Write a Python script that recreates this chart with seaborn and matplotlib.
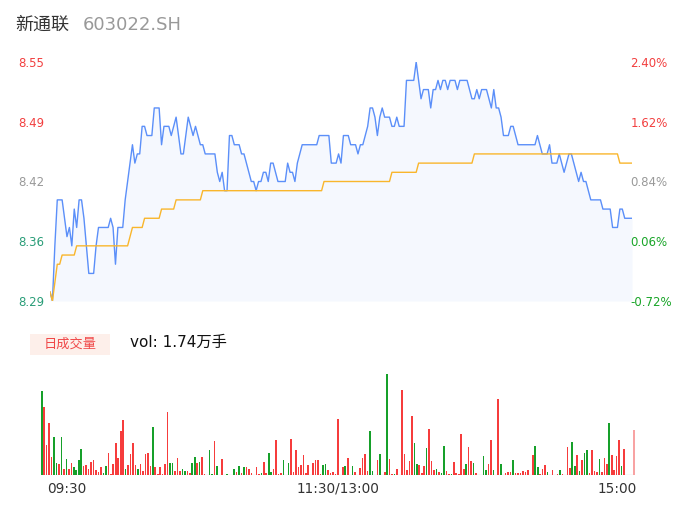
import numpy as np
import pandas as pd
import matplotlib
matplotlib.use("Agg")
import matplotlib.pyplot as plt
from matplotlib.patches import Rectangle
import seaborn as sns

sns.set_theme(style="white")
plt.rcParams["font.family"] = ["DejaVu Sans", "Noto Sans CJK SC"]

# ---------------- data ----------------
stock_name = "新通联"
stock_code = "603022.SH"
vol_text = "vol: 1.74万手"
vol_tag = "日成交量"

price = [
    8.30, 8.29, 8.35, 8.40, 8.40, 8.40, 8.38, 8.36, 8.37, 8.35,
    8.39, 8.37, 8.40, 8.40, 8.38, 8.35, 8.32, 8.32, 8.32, 8.35,
    8.37, 8.37, 8.37, 8.37, 8.37, 8.38, 8.37, 8.33, 8.37, 8.37,
    8.37, 8.40, 8.42, 8.44, 8.46, 8.44, 8.45, 8.45, 8.48, 8.48,
    8.47, 8.47, 8.47, 8.50, 8.50, 8.50, 8.46, 8.48, 8.48, 8.48,
    8.47, 8.48, 8.49, 8.47, 8.45, 8.45, 8.47, 8.49, 8.48, 8.47,
    8.48, 8.47, 8.46, 8.46, 8.45, 8.45, 8.45, 8.45, 8.45, 8.43,
    8.42, 8.43, 8.41, 8.41, 8.47, 8.47, 8.46, 8.46, 8.46, 8.45,
    8.45, 8.44, 8.43, 8.42, 8.42, 8.41, 8.42, 8.42, 8.43, 8.43,
    8.42, 8.44, 8.44, 8.43, 8.42, 8.42, 8.42, 8.42, 8.44, 8.43,
    8.43, 8.42, 8.44, 8.45, 8.46, 8.46, 8.46, 8.46, 8.46, 8.46,
    8.46, 8.47, 8.47, 8.47, 8.47, 8.47, 8.44, 8.44, 8.44, 8.45,
    8.44, 8.47, 8.47, 8.47, 8.46, 8.46, 8.46, 8.45, 8.46, 8.46,
    8.47, 8.48, 8.50, 8.50, 8.49, 8.47, 8.49, 8.50, 8.49, 8.49,
    8.49, 8.48, 8.48, 8.49, 8.48, 8.48, 8.48, 8.53, 8.53, 8.53,
    8.53, 8.55, 8.53, 8.51, 8.52, 8.52, 8.52, 8.50, 8.52, 8.52,
    8.53, 8.52, 8.53, 8.53, 8.52, 8.53, 8.53, 8.53, 8.52, 8.53,
    8.53, 8.53, 8.53, 8.52, 8.51, 8.51, 8.52, 8.51, 8.52, 8.52,
    8.52, 8.51, 8.50, 8.52, 8.50, 8.50, 8.49, 8.47, 8.47, 8.47,
    8.48, 8.48, 8.47, 8.46, 8.46, 8.46, 8.46, 8.46, 8.46, 8.46,
    8.46, 8.47, 8.46, 8.45, 8.45, 8.45, 8.46, 8.44, 8.44, 8.44,
    8.45, 8.44, 8.43, 8.44, 8.45, 8.45, 8.44, 8.43, 8.42, 8.43,
    8.42, 8.42, 8.41, 8.40, 8.40, 8.40, 8.40, 8.40, 8.39, 8.39,
    8.39, 8.39, 8.37, 8.37, 8.37, 8.39, 8.39, 8.38, 8.38, 8.38,
    8.38,
]

# average price line, as read: level and number of minutes at that level
avg_levels = [8.30, 8.29, 8.31, 8.33, 8.34, 8.35, 8.36, 8.37, 8.38, 8.39,
              8.40, 8.41, 8.42, 8.43, 8.44, 8.45, 8.44]
avg_counts = [1, 1, 1, 2, 6, 22, 1, 5, 7, 6,
              11, 50, 28, 11, 23, 60, 6]

volume = [
    250, 203, 90, 155, 55, 113, 37, 33, 113, 18,
    47, 18, 35, 23, 15, 45, 78, 27, 29, 18,
    38, 45, 15, 9, 25, 5, 28, 65, 3, 33,
    97, 52, 132, 165, 18, 29, 62, 95, 29, 17,
    33, 12, 63, 67, 28, 143, 25, 3, 24, 3,
    34, 189, 37, 37, 11, 51, 12, 18, 13, 12,
    5, 37, 53, 35, 39, 54, 3, 0, 75, 3,
    101, 27, 0, 48, 0, 3, 0, 0, 17, 10,
    28, 5, 25, 24, 17, 7, 0, 25, 3, 5,
    39, 5, 65, 8, 19, 105, 3, 7, 45, 0,
    37, 108, 9, 76, 25, 31, 59, 5, 30, 0,
    35, 45, 45, 3, 30, 33, 15, 7, 10, 3,
    167, 0, 25, 28, 52, 0, 28, 10, 0, 21,
    51, 62, 13, 133, 13, 0, 45, 63, 0, 8,
    302, 48, 3, 3, 19, 0, 255, 63, 15, 42,
    177, 95, 32, 30, 7, 27, 81, 139, 43, 15,
    18, 9, 6, 87, 13, 3, 3, 40, 6, 3,
    122, 18, 32, 84, 42, 35, 7, 0, 0, 57,
    14, 32, 105, 14, 0, 228, 34, 0, 6, 9,
    9, 44, 7, 7, 7, 12, 8, 15, 0, 60,
    87, 24, 3, 19, 30, 9, 0, 14, 0, 3,
    15, 3, 0, 84, 21, 98, 28, 60, 12, 46,
    66, 74, 6, 75, 12, 8, 47, 10, 50, 34,
    155, 60, 16, 57, 104, 28, 77, 0, 0, 0,
    135,
]

# R = up minute, G = down minute, L = last (closing auction) bar
direction = list(
    "GRRRRGGRGR" "GRRGGGGRRR" "RRRRRGGRRR" "RRRRGRRRRG"
    "RRRRRGRRRR" "RRGGRRRGGR" "RGGRGRRRGG" "RGRRRGRRGR"
    "GRGRRRRRRG" "RRGGRRRRGR" "GRRRRRRRRR" "RRRRGGRRRR"
    "RRRGRRGRRR" "RRRGGRRGRR" "GRRGRRRRRR" "RGGRRRGRRR"
    "GRGGRRGRRR" "RRGRRGRRRG" "GRRGGRGRRR" "RGRRRRRRRR"
    "GGRRRGRRRR" "GRRRRGGRGR" "GGRRRRGRRR" "GRRRRGRRRR"
    "L"
)

y_ticks = [8.29, 8.355, 8.42, 8.485, 8.55]
y_labels = ["8.29", "8.36", "8.42", "8.49", "8.55"]
pct_labels = ["-0.72%", "0.06%", "0.84%", "1.62%", "2.40%"]
time_labels = ["09:30", "11:30/13:00", "15:00"]

# ---------------- styling ----------------
W, H = 686, 524
RED = "#f23f3f"
GREEN = "#19a528"
GRAY = "#999999"
left_colors = [ "#2a9d78", "#2a9d78", GRAY, RED, RED]
right_colors = [GREEN, GREEN, GRAY, RED, RED]

fig = plt.figure(figsize=(W / 100, H / 100), dpi=100)
fig.patch.set_facecolor("white")


def fx(px):
    return px / W


def fy(py):
    return 1 - py / H


# ---------------- price panel ----------------
avg = np.repeat(avg_levels, avg_counts)
df = pd.DataFrame({"t": np.arange(len(price)), "price": price, "avg": avg})

ax = fig.add_axes([fx(50), fy(301), fx(632) - fx(50), fy(62) - fy(301)])
ax.fill_between(df["t"], df["price"], y_ticks[0], color="#f5f8fe", lw=0)
sns.lineplot(data=df, x="t", y="price", ax=ax, color="#5b8ff9", lw=1.0)
sns.lineplot(data=df, x="t", y="avg", ax=ax, color="#f9b62c", lw=1.0)
ax.set_xlim(0, len(price) - 1)
ax.set_ylim(y_ticks[0], y_ticks[-1])
ax.set_xticks([])
ax.set_xlabel("")
ax.set_ylabel("")
for s in ax.spines.values():
    s.set_visible(False)
ax.set_yticks(y_ticks)
ax.set_yticklabels(y_labels)
ax.tick_params(axis="y", length=0, pad=4, labelsize=8.5)
for lab, c in zip(ax.get_yticklabels(), left_colors):
    lab.set_color(c)

ax2 = ax.twinx()
ax2.set_ylim(y_ticks[0], y_ticks[-1])
ax2.set_yticks(y_ticks)
ax2.set_yticklabels(pct_labels)
ax2.tick_params(axis="y", length=0, pad=-1, labelsize=8.5)
for lab, c in zip(ax2.get_yticklabels(), right_colors):
    lab.set_color(c)
for s in ax2.spines.values():
    s.set_visible(False)

# ---------------- volume panel ----------------
vdf = pd.DataFrame({"k": np.arange(len(volume)), "vol": volume, "dir": direction})
axv = fig.add_axes([fx(40.5), fy(475), fx(635.2) - fx(40.5), fy(374) - fy(475)])
sns.barplot(data=vdf, x="k", y="vol", hue="dir",
            palette={"R": "#f63c3c", "G": "#16a02a", "L": "#f8a3a3"},
            dodge=False, width=0.65, legend=False, saturation=1,
            linewidth=0, ax=axv)
axv.set_xlim(-0.5, len(volume) - 0.5)
axv.set_ylim(0, max(volume))
axv.axhline(0, color="#dddddd", lw=1.0, zorder=0)
axv.set_xticks([])
axv.set_yticks([])
axv.set_xlabel("")
axv.set_ylabel("")
for s in axv.spines.values():
    s.set_visible(False)

# ---------------- texts ----------------
fig.text(fx(15), fy(25), stock_name, fontsize=13, color="#333333",
         va="center", ha="left", family=["Noto Sans CJK SC"])
fig.text(fx(83), fy(25), stock_code, fontsize=13, color=GRAY,
         va="center", ha="left")

fig.patches.append(Rectangle((fx(30), fy(355)), fx(110) - fx(30), fy(334) - fy(355),
                             transform=fig.transFigure, color="#fdefea", lw=0))
fig.text(fx(70), fy(344), vol_tag, fontsize=9.5, color="#f04848",
         va="center", ha="center", family=["Noto Sans CJK SC"])
fig.text(fx(130), fy(342), vol_text, fontsize=11, color="#111111",
         va="center", ha="left")

fig.text(fx(47), fy(489), time_labels[0], fontsize=9.8, color="#333333",
         va="center", ha="left")
fig.text(fx(338), fy(489), time_labels[1], fontsize=9.8, color="#333333",
         va="center", ha="center")
fig.text(fx(637), fy(489), time_labels[2], fontsize=9.8, color="#333333",
         va="center", ha="right")

fig.savefig("out.png", dpi=100)
